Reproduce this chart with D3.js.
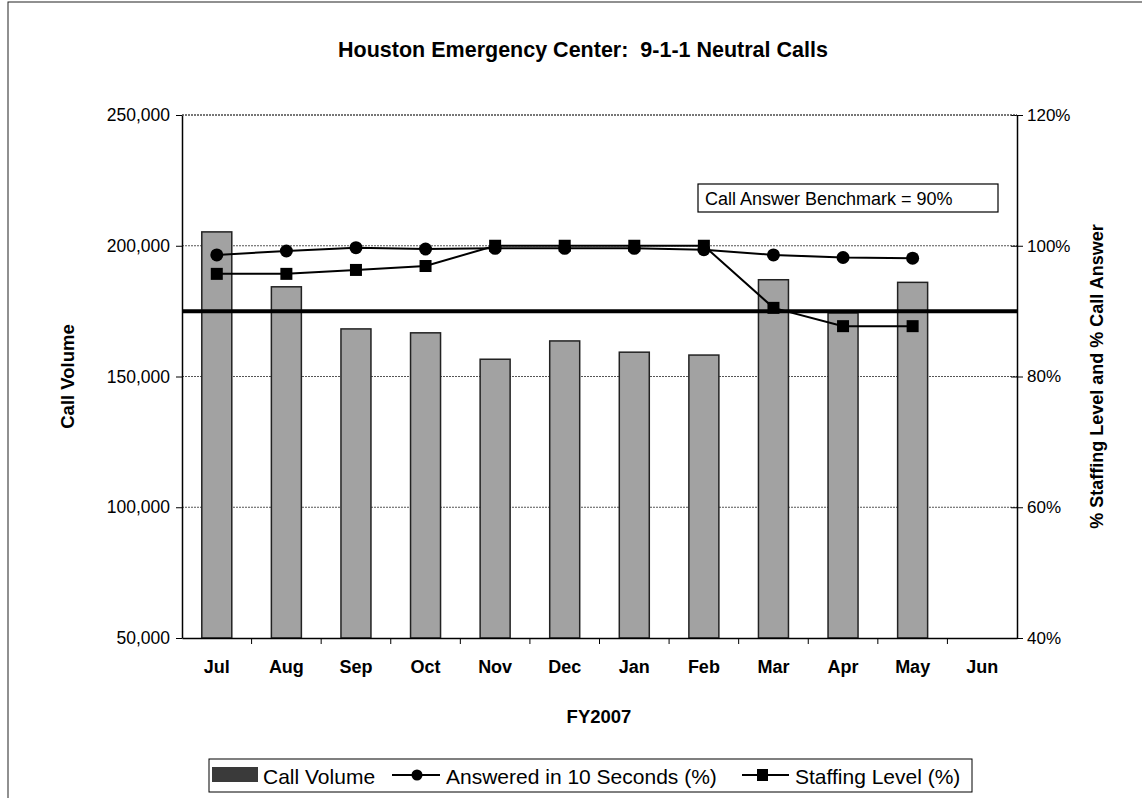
<!DOCTYPE html>
<html>
<head>
<meta charset="utf-8">
<script src="https://cdn.jsdelivr.net/npm/d3@7"></script>
<style>
  body { margin: 0; background: #fff; }
  svg { font-family: "Liberation Sans", Arial, sans-serif; }
</style>
</head>
<body>
<script>
// chart data
var months = ["Jul", "Aug", "Sep", "Oct", "Nov", "Dec", "Jan", "Feb", "Mar", "Apr", "May", "Jun"];
var callVolume = [205300, 184300, 168200, 166700, 156600, 163600, 159300, 158200, 187000, 174300, 186000, null];
var answered10s = [98.6, 99.2, 99.7, 99.5, 99.6, 99.6, 99.6, 99.4, 98.6, 98.2, 98.1, null];
var staffing = [95.7, 95.7, 96.3, 96.9, 100, 100, 100, 100, 90.5, 87.7, 87.7, null];
var leftTicks = [50000, 100000, 150000, 200000, 250000];
var rightTicks = [40, 60, 80, 100, 120];
var benchmark = 90;

window.onload = function() {
    var w = 1142, h = 798;
    var left = 182, right = 1017, top = 115, bottom = 638;

    var svg = d3.select("body").append("svg")
        .attr("width", w)
        .attr("height", h);

    // outer frame of the scanned chart
    svg.append("rect")
        .attr("x", 8).attr("y", 2)
        .attr("width", 1150).attr("height", 820)
        .style("fill", "none").style("stroke", "#222").style("stroke-width", 1);

    var x = d3.scaleBand().domain(months).range([left, right]);
    var y = d3.scaleLinear().domain([50000, 250000]).range([bottom, top]);
    var y2 = d3.scaleLinear().domain([40, 120]).range([bottom, top]);

    // title
    svg.append("text")
        .attr("x", 583).attr("y", 57)
        .attr("text-anchor", "middle")
        .style("font-size", "21.5px").style("font-weight", "bold")
        .style("white-space", "pre")
        .text("Houston Emergency Center:  9-1-1 Neutral Calls");

    // gridlines
    svg.append("g").selectAll("line")
        .data(leftTicks.slice(1))
        .enter().append("line")
        .attr("x1", left).attr("x2", right)
        .attr("y1", function(d) { return y(d); })
        .attr("y2", function(d) { return y(d); })
        .style("stroke", "#555").style("stroke-width", 1)
        .style("stroke-dasharray", "2,1");

    // bars
    svg.append("g").selectAll("rect")
        .data(callVolume.map(function(v, i) { return {m: months[i], v: v}; })
            .filter(function(d) { return d.v != null; }))
        .enter().append("rect")
        .attr("x", function(d) { return x(d.m) + x.bandwidth() / 2 - 15; })
        .attr("y", function(d) { return y(d.v); })
        .attr("width", 30)
        .attr("height", function(d) { return bottom - y(d.v); })
        .style("fill", "#a2a2a2")
        .style("stroke", "#222").style("stroke-width", 1.5);

    // benchmark line
    svg.append("line")
        .attr("x1", left).attr("x2", right)
        .attr("y1", y2(benchmark)).attr("y2", y2(benchmark))
        .style("stroke", "#000").style("stroke-width", 4);

    // axes
    var yAxis = d3.axisLeft(y).tickValues(leftTicks).tickSize(6).tickSizeOuter(0)
        .tickFormat(d3.format(","));
    var gy = svg.append("g").attr("transform", "translate(" + left + ",0)").call(yAxis);
    gy.selectAll("text").style("font-size", "17.5px").attr("x", -12).attr("fill", "#000");

    var y2Axis = d3.axisRight(y2).tickValues(rightTicks).tickSize(6).tickSizeOuter(0)
        .tickFormat(function(d) { return d + "%"; });
    var gy2 = svg.append("g").attr("transform", "translate(" + right + ",0)").call(y2Axis);
    gy2.selectAll("text").style("font-size", "17px").attr("x", 10).attr("fill", "#000");
    // right ticks cross the axis
    gy2.selectAll(".tick line").attr("x1", -6);

    var xAxis = d3.axisBottom(x).tickSize(0).tickSizeOuter(0);
    var gx = svg.append("g").attr("transform", "translate(0," + bottom + ")").call(xAxis);
    gx.selectAll("text").style("font-size", "18px").style("font-weight", "bold")
        .attr("y", 22).attr("fill", "#000");
    // tick marks at category boundaries
    gx.selectAll(".boundary")
        .data(months.slice(1))
        .enter().append("line")
        .attr("x1", function(d) { return x(d); })
        .attr("x2", function(d) { return x(d); })
        .attr("y1", 0).attr("y2", 6)
        .style("stroke", "#000");
    svg.selectAll(".domain").style("stroke", "#000").style("stroke-width", 1.5);

    // dotted top border of plot area
    svg.append("line")
        .attr("x1", left).attr("x2", right).attr("y1", top).attr("y2", top)
        .style("stroke", "#444").style("stroke-dasharray", "2,1");

    // axis titles
    svg.append("text")
        .attr("transform", "translate(74," + ((top + bottom) / 2) + ") rotate(-90)")
        .attr("text-anchor", "middle")
        .style("font-size", "18.5px").style("font-weight", "bold")
        .text("Call Volume");
    svg.append("text")
        .attr("transform", "translate(1103," + ((top + bottom) / 2) + ") rotate(-90)")
        .attr("text-anchor", "middle")
        .style("font-size", "18px").style("font-weight", "bold")
        .text("% Staffing Level and % Call Answer");
    svg.append("text")
        .attr("x", 599).attr("y", 723)
        .attr("text-anchor", "middle")
        .style("font-size", "18.5px").style("font-weight", "bold")
        .text("FY2007");

    // lines
    function cx(i) { return x(months[i]) + x.bandwidth() / 2; }
    var line = d3.line()
        .defined(function(d) { return d != null; })
        .x(function(d, i) { return cx(i); })
        .y(function(d) { return y2(d); });

    svg.append("path").datum(answered10s)
        .attr("d", line)
        .style("fill", "none").style("stroke", "#000").style("stroke-width", 2);
    svg.append("path").datum(staffing)
        .attr("d", line)
        .style("fill", "none").style("stroke", "#000").style("stroke-width", 2);

    svg.append("g").selectAll("circle")
        .data(answered10s.map(function(v, i) { return {i: i, v: v}; })
            .filter(function(d) { return d.v != null; }))
        .enter().append("circle")
        .attr("cx", function(d) { return cx(d.i); })
        .attr("cy", function(d) { return y2(d.v); })
        .attr("r", 6.5)
        .style("fill", "#000");

    svg.append("g").selectAll("rect")
        .data(staffing.map(function(v, i) { return {i: i, v: v}; })
            .filter(function(d) { return d.v != null; }))
        .enter().append("rect")
        .attr("x", function(d) { return cx(d.i) - 6; })
        .attr("y", function(d) { return y2(d.v) - 6; })
        .attr("width", 12).attr("height", 12)
        .style("fill", "#000");

    // benchmark label box
    svg.append("rect")
        .attr("x", 698).attr("y", 184)
        .attr("width", 300).attr("height", 28)
        .style("fill", "#fff").style("stroke", "#000").style("stroke-width", 1.2);
    svg.append("text")
        .attr("x", 705).attr("y", 205)
        .style("font-size", "18px")
        .text("Call Answer Benchmark = " + benchmark + "%");

    // legend
    var lg = svg.append("g");
    lg.append("rect")
        .attr("x", 209).attr("y", 759).attr("width", 763).attr("height", 33)
        .style("fill", "#fff").style("stroke", "#000").style("stroke-width", 1);
    lg.append("rect")
        .attr("x", 212).attr("y", 767).attr("width", 46).attr("height", 15)
        .style("fill", "#3a3a3a");
    lg.append("text").attr("x", 263).attr("y", 784)
        .style("font-size", "21px").text("Call Volume");
    lg.append("line").attr("x1", 392).attr("x2", 440).attr("y1", 775).attr("y2", 775)
        .style("stroke", "#000").style("stroke-width", 2);
    lg.append("circle").attr("cx", 417).attr("cy", 775).attr("r", 5.5).style("fill", "#000");
    lg.append("text").attr("x", 446).attr("y", 784)
        .style("font-size", "21px").text("Answered in 10 Seconds (%)");
    lg.append("line").attr("x1", 742).attr("x2", 789).attr("y1", 775).attr("y2", 775)
        .style("stroke", "#000").style("stroke-width", 2);
    lg.append("rect").attr("x", 757).attr("y", 769).attr("width", 11).attr("height", 12)
        .style("fill", "#000");
    lg.append("text").attr("x", 795).attr("y", 784)
        .style("font-size", "21px").text("Staffing Level (%)");
};
</script>
</body>
</html>
